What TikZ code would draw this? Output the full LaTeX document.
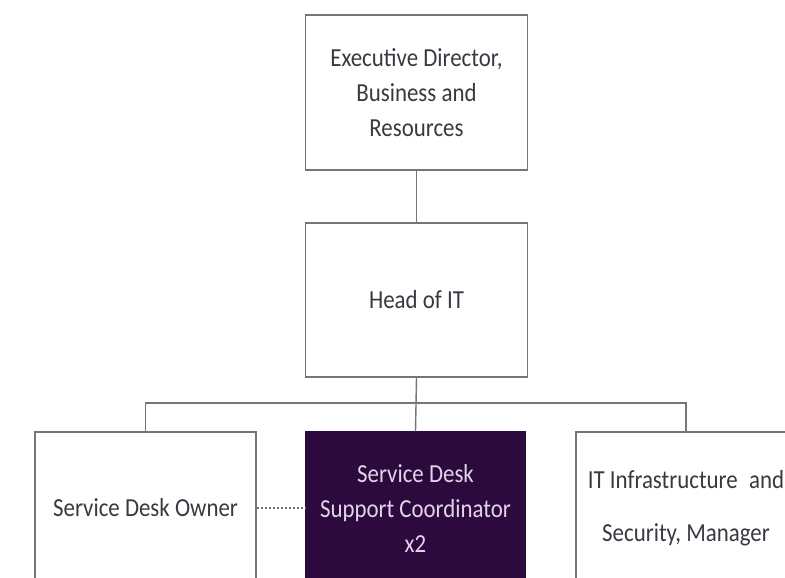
\documentclass[tikz,border=0pt]{standalone}
\usepackage{fontspec}
\setmainfont{Carlito}
\usepackage{graphicx}
\definecolor{linec}{HTML}{767676}
\definecolor{txtc}{HTML}{3C3842}
\definecolor{purp}{HTML}{2D0A3E}
\definecolor{ltxt}{HTML}{E2D4EA}
\newcommand{\sq}[1]{\scalebox{0.88}[1]{#1}}
\begin{document}
\begin{tikzpicture}[x=1pt,y=-1pt,
  box/.style={draw=linec, line width=1.4pt, fill=white, minimum width=222pt, inner sep=0pt, align=center, text=txtc, font=\fontsize{26}{35}\selectfont},
  conn/.style={draw=linec, line width=1.4pt}]
\useasboundingbox (0,0) rectangle (785,578);
\clip (0,0) rectangle (785,578);
\fill[white] (0,0) rectangle (785,578);
\node[box, minimum height=155pt] (exec) at (416.5,92.5) {\sq{Executive Director,}\\\sq{Business and}\\\sq{Resources}};
\node[box, minimum height=154pt] (head) at (416.5,300) {\sq{Head of IT}};
\node[box, minimum height=152pt, minimum width=221pt] (owner) at (145.5,508) {\sq{Service Desk Owner}};
\node[box, minimum height=152pt, minimum width=219pt, fill=purp, draw=purp, text=ltxt] (coord) at (415.5,508) {\sq{Service Desk}\\\sq{Support Coordinator}\\\sq{x2}};
\node[box, minimum height=152pt, minimum width=220pt, font=\fontsize{26}{53}\selectfont] (infra) at (686,508) {\sq{IT Infrastructure\enspace and}\\\sq{Security, Manager}};
\coordinate (bus) at (415.5,403);
\draw[conn] (exec.south) -- (head.north);
\draw[conn] (head.south) -- (coord.north);
\draw[conn] (owner.north) |- (bus) -| (infra.north);
\draw[conn, line width=1.2pt, dash pattern=on 2pt off 2pt] (owner.east) -- (coord.west);
\end{tikzpicture}
\end{document}
